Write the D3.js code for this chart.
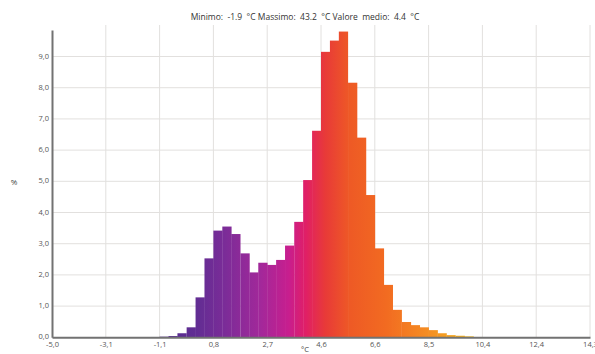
<!DOCTYPE html>
<html>
<head>
<meta charset="utf-8">
<script src="https://cdn.jsdelivr.net/npm/d3@7"></script>
<style>
  body { margin: 0; background: #fff; }
  svg text { font-family: "Open Sans", sans-serif; fill: #444; }
  .axis path { stroke: #727272; stroke-width: 2; }
  .grid line { stroke: #e2e0de; stroke-width: 1; }
</style>
</head>
<body>
<div id="chart"></div>
<script>
// Histogram data: lower edge of each bin (°C) and share of pixels (%)
var binLow = [-1.46, -1.14, -0.82, -0.50, -0.17, 0.15, 0.47, 0.79, 1.11, 1.43,
              1.76, 2.08, 2.40, 2.72, 3.04, 3.36, 3.69, 4.01, 4.33, 4.65,
              4.97, 5.29, 5.62, 5.94, 6.26, 6.58, 6.90, 7.22, 7.55, 7.87,
              8.19, 8.51, 8.83, 9.15, 9.48, 9.80, 10.12]
var binPct = [0.01, 0.02, 0.04, 0.13, 0.32, 1.28, 2.53, 3.42, 3.55, 3.31,
              2.69, 2.08, 2.39, 2.32, 2.48, 2.94, 3.70, 5.04, 6.62, 9.15,
              9.51, 9.80, 8.16, 6.40, 4.56, 2.85, 1.68, 0.88, 0.49, 0.39,
              0.32, 0.23, 0.13, 0.07, 0.05, 0.03, 0.01]
var binWidth = 0.3217

var xTicks = [-5.0, -3.07, -1.14, 0.79, 2.72, 4.65, 6.58, 8.51, 10.44, 12.37, 14.3]
var xTickLabels = ["-5,0", "-3,1", "-1,1", "0,8", "2,7", "4,6", "6,6", "8,5", "10,4", "12,4", "14,3"]
var yTicks = [0, 1, 2, 3, 4, 5, 6, 7, 8, 9]
var yTickLabels = ["0,0", "1,0", "2,0", "3,0", "4,0", "5,0", "6,0", "7,0", "8,0", "9,0"]

// palette stops along the temperature axis
var colorAt = [-1.5, 0.2, 1.2, 2.5, 3.5, 4.1, 4.8, 5.7, 7.0, 8.6, 10.4]
var colorHex = ["#4f2c8e", "#622d93", "#7b2c98", "#a3289a", "#c81e8e", "#e01f66",
                "#e83a38", "#ee5a25", "#f26b21", "#f59023", "#f5c21a"]

var title = "Minimo:  -1.9  °C Massimo:  43.2  °C Valore  medio:  4.4  °C"

var width = 595, height = 354

var svg = d3.select("#chart").append("svg")
  .attr("width", width)
  .attr("height", height)

var x = d3.scaleLinear().domain([-5.0, 14.3]).range([52, 590])
var y = d3.scaleLinear().domain([0, 9.85]).range([337.3, 30])

// gradient running along x
var grad = svg.append("defs").append("linearGradient")
  .attr("id", "heat")
  .attr("gradientUnits", "userSpaceOnUse")
  .attr("x1", x.range()[0]).attr("x2", x.range()[1])
  .attr("y1", 0).attr("y2", 0)

grad.selectAll("stop")
  .data(colorAt)
  .enter().append("stop")
  .attr("offset", function(d) { return (x(d) - x.range()[0]) / (x.range()[1] - x.range()[0]) })
  .attr("stop-color", function(d, i) { return colorHex[i] })

// grid
svg.append("g").attr("class", "grid")
  .selectAll("line.v")
  .data(xTicks.slice(1))
  .enter().append("line")
  .attr("x1", function(d) { return x(d) }).attr("x2", function(d) { return x(d) })
  .attr("y1", 25).attr("y2", y(0))

svg.append("g").attr("class", "grid")
  .selectAll("line.h")
  .data(yTicks.slice(1))
  .enter().append("line")
  .attr("x1", x.range()[0]).attr("x2", x.range()[1])
  .attr("y1", function(d) { return y(d) }).attr("y2", function(d) { return y(d) })

// bars
svg.append("g")
  .selectAll("rect")
  .data(binLow)
  .enter().append("rect")
  .attr("x", function(d) { return x(d) })
  .attr("width", function(d) { return x(d + binWidth) - x(d) + 0.3 })
  .attr("y", function(d, i) { return y(binPct[i]) })
  .attr("height", function(d, i) { return y(0) - y(binPct[i]) })
  .attr("fill", "url(#heat)")

// axes
var xAxis = d3.axisBottom(x)
  .tickValues(xTicks)
  .tickFormat(function(d, i) { return xTickLabels[i] })
  .tickSize(0)
  .tickPadding(4)

svg.append("g")
  .attr("class", "axis x-axis")
  .attr("transform", "translate(0," + y(0) + ")")
  .call(xAxis)

var yAxis = d3.axisLeft(y)
  .tickValues(yTicks)
  .tickFormat(function(d, i) { return yTickLabels[i] })
  .tickSize(0)
  .tickPadding(3)

svg.append("g")
  .attr("class", "axis y-axis")
  .attr("transform", "translate(" + x.range()[0] + ",0)")
  .call(yAxis)

svg.selectAll(".axis text")
  .style("font-size", "7.5px")
  .style("fill", "#555")

svg.select(".y-axis").selectAll(".tick text").attr("dy", "0.2em")

// labels
svg.append("text")
  .attr("x", 305).attr("y", 20)
  .attr("text-anchor", "middle")
  .style("font-size", "8.5px")
  .style("white-space", "pre")
  .style("fill", "#333")
  .text(title)

svg.append("text")
  .attr("x", 14).attr("y", 185)
  .attr("text-anchor", "middle")
  .style("font-size", "8px")
  .text("%")

svg.append("text")
  .attr("x", 305).attr("y", 352)
  .attr("text-anchor", "middle")
  .style("font-size", "7.5px")
  .text("°C")
</script>
</body>
</html>
